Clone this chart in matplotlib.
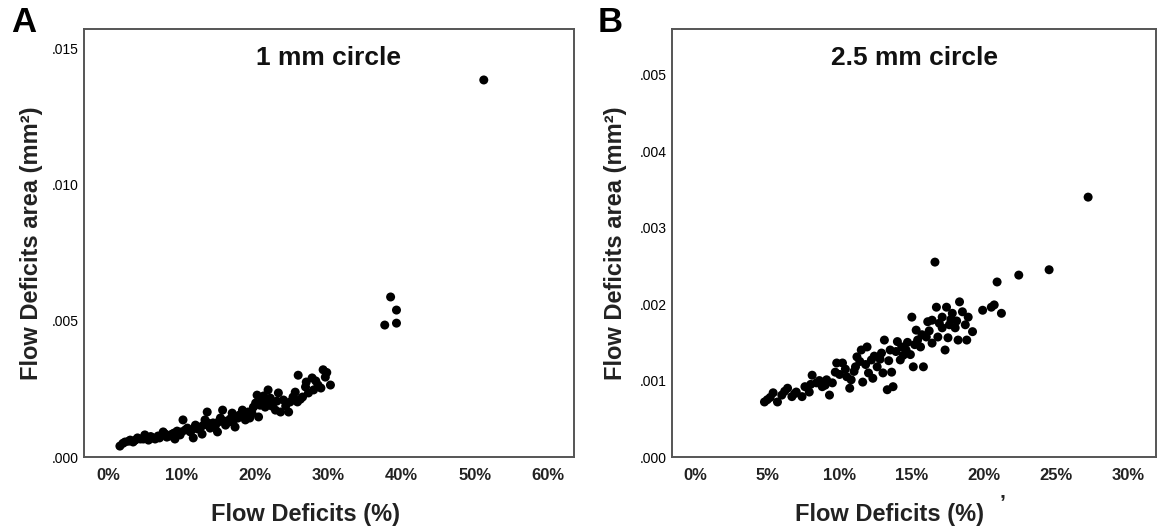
import matplotlib.pyplot as plt
from matplotlib.ticker import FuncFormatter, FixedLocator

plt.rcParams['font.family'] = ['Liberation Sans', 'DejaVu Sans']

# ---- panel A: 1 mm circle (x in %, y in mm^2) ----
a_x = [1.6, 2.3, 3.0, 3.7, 4.4, 5.0, 5.5, 6.1, 6.8, 7.5, 8.0, 8.7, 9.1, 9.4, 9.8,
       10.2, 10.5, 11.2, 11.6, 11.9, 12.6, 12.8, 13.2, 13.5, 13.9, 14.3, 14.9, 15.3,
       15.6, 16.0, 16.4, 16.9, 17.3, 17.7, 18.3, 18.7, 19.1, 19.6, 20.1, 20.3, 20.5,
       21.0, 21.4, 21.8, 22.1, 22.5, 22.8, 23.2, 23.5, 23.9, 24.6, 24.8, 25.2, 25.8,
       25.9, 26.5, 26.9, 27.3, 27.8, 28.0, 28.6, 29.3, 29.6, 30.3,
       2.0, 2.8, 3.4, 4.0, 4.8, 5.8, 6.4, 7.0, 7.8, 8.4, 9.0, 10.0, 10.8, 11.4, 12.2,
       13.0, 13.6, 14.6, 15.0, 15.8, 16.6, 17.0, 17.9, 18.5, 19.3, 19.8, 20.7, 21.2,
       21.6, 22.3, 23.0, 24.2, 25.5, 26.2, 27.0, 28.3, 29.0, 29.8,
       37.7, 38.5, 39.3, 39.3, 51.2]
a_y = [0.00040, 0.00055, 0.00062, 0.00062, 0.00066, 0.00081, 0.00062, 0.00070,
       0.00077, 0.00092, 0.00073, 0.00084, 0.00066, 0.00095, 0.00081, 0.00136,
       0.00099, 0.00092, 0.00070, 0.00117, 0.00110, 0.00084, 0.00136, 0.00165,
       0.00106, 0.00125, 0.00092, 0.00143, 0.00172, 0.00117, 0.00128, 0.00161,
       0.00110, 0.00143, 0.00172, 0.00136, 0.00165, 0.00161, 0.00198, 0.00227,
       0.00147, 0.00209, 0.00183, 0.00246, 0.00216, 0.00198, 0.00172, 0.00235,
       0.00165, 0.00209, 0.00165, 0.00202, 0.00220, 0.00202, 0.00300, 0.00220,
       0.00257, 0.00235, 0.00290, 0.00246, 0.00264, 0.00320, 0.00293, 0.00264,
       0.00050, 0.00058, 0.00055, 0.00070, 0.00066, 0.00075, 0.00066, 0.00070,
       0.00084, 0.00077, 0.00088, 0.00092, 0.00106, 0.00099, 0.00103, 0.00117,
       0.00125, 0.00114, 0.00128, 0.00132, 0.00139, 0.00128, 0.00154, 0.00147,
       0.00143, 0.00183, 0.00190, 0.00224, 0.00198, 0.00187, 0.00205, 0.00187,
       0.00238, 0.00212, 0.00275, 0.00279, 0.00253, 0.00310,
       0.00484, 0.00587, 0.00539, 0.00491, 0.01383]

# ---- panel B: 2.5 mm circle ----
b_x = [4.8, 5.0, 5.4, 5.7, 6.0, 6.4, 6.7, 7.0, 7.4, 7.6, 7.9, 8.1, 8.4, 8.8, 9.1,
       9.3, 9.5, 9.7, 9.8, 10.2, 10.5, 10.7, 10.8, 11.1, 11.2, 11.5, 11.6, 11.9,
       12.0, 12.2, 12.3, 12.6, 12.9, 13.0, 13.1, 13.3, 13.5, 13.6, 13.7, 14.0,
       14.2, 14.3, 14.6, 14.9, 15.0, 15.1, 15.3, 15.4, 15.6, 15.8, 16.0, 16.1,
       16.4, 16.4, 16.6, 16.7, 16.8, 17.1, 17.1, 17.3, 17.4, 17.5, 17.6, 17.8,
       18.0, 18.2, 18.3, 18.5, 18.7, 18.8, 18.9, 19.2, 19.9, 20.5, 20.7, 20.9,
       21.2, 22.4, 24.5, 27.2,
       5.2, 6.2, 6.9, 8.0, 8.6, 9.0, 10.0, 10.4, 11.0, 11.4, 11.8, 12.4, 12.8,
       13.4, 13.9, 14.4, 14.7, 15.2, 15.7, 16.2, 16.9, 17.7, 18.1]
b_y = [0.00072, 0.00075, 0.00084, 0.00072, 0.00081, 0.00090, 0.00079, 0.00085,
       0.00079, 0.00092, 0.00085, 0.00107, 0.00097, 0.00092, 0.00101, 0.00081,
       0.00097, 0.00111, 0.00123, 0.00123, 0.00105, 0.00090, 0.00101, 0.00118,
       0.00131, 0.00140, 0.00098, 0.00144, 0.00110, 0.00127, 0.00103, 0.00118,
       0.00136, 0.00110, 0.00153, 0.00088, 0.00140, 0.00111, 0.00092, 0.00151,
       0.00127, 0.00144, 0.00140, 0.00134, 0.00183, 0.00118, 0.00166, 0.00153,
       0.00144, 0.00118, 0.00157, 0.00177, 0.00149, 0.00179, 0.00255, 0.00196,
       0.00157, 0.00169, 0.00183, 0.00140, 0.00196, 0.00156, 0.00173, 0.00188,
       0.00169, 0.00153, 0.00203, 0.00190, 0.00173, 0.00153, 0.00183, 0.00164,
       0.00192, 0.00196, 0.00199, 0.00229, 0.00188, 0.00238, 0.00245, 0.00340,
       0.00078, 0.00086, 0.00083, 0.00095, 0.00100, 0.00094, 0.00108, 0.00115,
       0.00112, 0.00125, 0.00121, 0.00132, 0.00128, 0.00126, 0.00138, 0.00133,
       0.00150, 0.00147, 0.00160, 0.00165, 0.00175, 0.00180, 0.00178]

a_xticks = [0, 10, 20, 30, 40, 50, 60]
a_yticks = [0.000, 0.005, 0.010, 0.015]
b_xticks = [0, 5, 10, 15, 20, 25, 30]
b_yticks = [0.000, 0.001, 0.002, 0.003, 0.004, 0.005]

fig = plt.figure(figsize=(11.58, 5.29), dpi=100)
axA = fig.add_axes([0.0725, 0.1361, 0.4232, 0.8091])
axB = fig.add_axes([0.5803, 0.1361, 0.4180, 0.8091])

pct = FuncFormatter(lambda v, p: f'{v:.0f}%')
dec = FuncFormatter(lambda v, p: f'{v:.3f}'.lstrip('0'))

# axis, x, y, xticks, yticks, xlim, ylim, title, ylabel x, xlabel x
panels = [
    (axA, a_x, a_y, a_xticks, a_yticks, (-3.3, 63.5), (0, 0.0157), '1 mm circle', -0.083, 0.453),
    (axB, b_x, b_y, b_xticks, b_yticks, (-1.6, 31.9), (0, 0.0056), '2.5 mm circle', -0.093, 0.450),
]
for ax, xs, ys, xt, yt, xl, yl, title, ylab_x, xlab_x in panels:
    ax.scatter(xs, ys, s=42, color='black', edgecolors='none', zorder=3)
    ax.set_xlim(*xl)
    ax.set_ylim(*yl)
    ax.xaxis.set_major_locator(FixedLocator(xt))
    ax.yaxis.set_major_locator(FixedLocator(yt))
    ax.xaxis.set_major_formatter(pct)
    ax.yaxis.set_major_formatter(dec)
    ax.tick_params(axis='both', length=0)
    ax.tick_params(axis='x', pad=8, labelsize=12)
    ax.tick_params(axis='y', pad=4, labelsize=10)
    for lab in ax.get_xticklabels():
        lab.set_fontweight('bold')
        lab.set_color('#222222')
    for sp in ax.spines.values():
        sp.set_color('#555555')
        sp.set_linewidth(1.4)
    ax.text(0.5, 0.932, title, transform=ax.transAxes, ha='center', va='center',
            fontsize=19, fontweight='bold', color='#111111')
    ax.set_ylabel('Flow Deficits area (mm\u00b2)', fontsize=17,
                  fontweight='bold', color='#222222')
    ax.yaxis.set_label_coords(ylab_x, 0.5)
    ax.set_xlabel('Flow Deficits (%)', fontsize=17, fontweight='bold', color='#222222')
    ax.xaxis.set_label_coords(xlab_x, -0.108)

fig.text(0.010, 0.958, 'A', fontsize=25, fontweight='bold', va='center', ha='left')
fig.text(0.516, 0.958, 'B', fontsize=25, fontweight='bold', va='center', ha='left')
fig.text(0.866, 0.050, '\u2019', fontsize=15, fontweight='bold', color='#222222',
         ha='center', va='center')

fig.savefig('out.png', dpi=100, facecolor='white')
